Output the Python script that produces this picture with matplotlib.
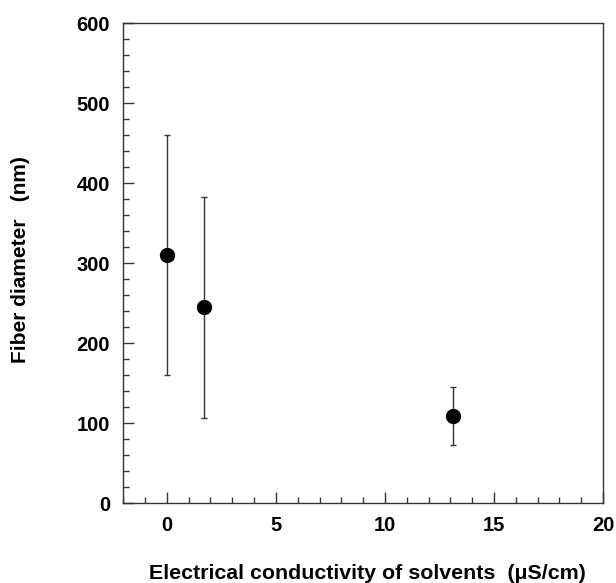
import matplotlib
matplotlib.use("Agg")
import matplotlib.pyplot as plt
from matplotlib.ticker import MultipleLocator

conductivity = [0.0, 1.72, 13.1]
diameter = [310, 245, 109]
err_low = [150, 139, 36]
err_high = [150, 138, 36]

plt.rcParams['font.family'] = ['Liberation Sans', 'DejaVu Sans']
plt.rcParams['font.weight'] = 'bold'

fig = plt.figure(figsize=(6.16, 5.83), dpi=100)
ax = fig.add_axes([0.2, 0.137, 0.779, 0.823])

ax.errorbar(conductivity, diameter, yerr=[err_low, err_high], fmt='o',
            color='black', ecolor='#333333', elinewidth=1, capsize=2.2,
            capthick=1, markersize=10)

ax.set_xlim(-2, 20)
ax.set_ylim(0, 600)
ax.xaxis.set_major_locator(MultipleLocator(5))
ax.xaxis.set_minor_locator(MultipleLocator(1))
ax.yaxis.set_major_locator(MultipleLocator(100))
ax.yaxis.set_minor_locator(MultipleLocator(20))
ax.tick_params(which='both', direction='in', top=False, right=False,
               labelsize=14.5, color='#333333')
ax.tick_params(which='major', length=8, width=1)
ax.tick_params(axis='x', which='major', pad=9)
ax.tick_params(axis='y', which='major', pad=9.5)
ax.tick_params(which='minor', length=4, width=1)
for lbl in ax.get_xticklabels() + ax.get_yticklabels():
    lbl.set_fontweight('bold')
for s in ax.spines.values():
    s.set_color('#333333')
    s.set_linewidth(1)

fig.text(0.597, 0.017, 'Electrical conductivity of solvents  (\u03bcS/cm)',
         fontsize=15.4, fontweight='bold', ha='center', va='center')
fig.text(0.034, 0.554, 'Fiber diameter   (nm)', fontsize=15, fontweight='bold',
         ha='center', va='center', rotation=90)

fig.savefig('out.png', dpi=100)
